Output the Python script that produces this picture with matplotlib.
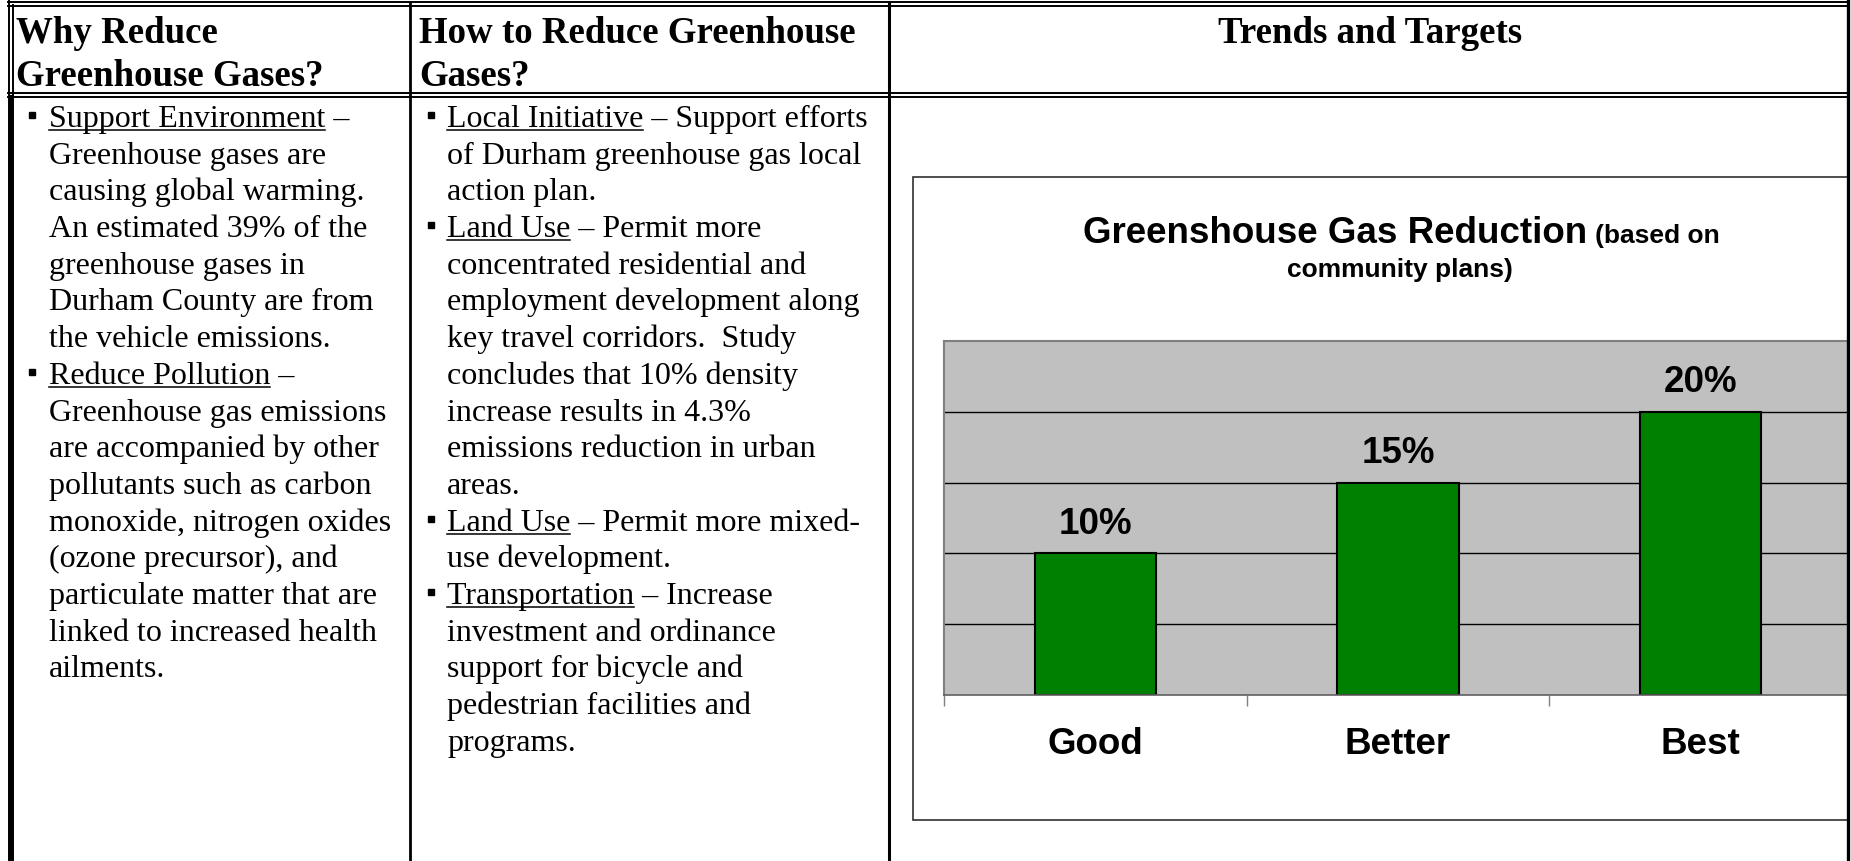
import matplotlib
matplotlib.use("Agg")
import matplotlib.pyplot as plt
from matplotlib.patches import Rectangle

W, H = 1851, 862

# chart values
categories = ['Good', 'Better', 'Best']
reduction = [10, 15, 20]
grid_levels = [5, 10, 15, 20]
y_max = 25

# table text: (bullet, underlined words, rest of line)
headers = [
    (16, ['Why Reduce', 'Greenhouse Gases?']),
    (419, ['How to Reduce Greenhouse', 'Gases?']),
]
col1_lines = [
    (True, 'Support Environment', ' \u2013'),
    (False, '', 'Greenhouse gases are'),
    (False, '', 'causing global warming.'),
    (False, '', 'An estimated 39% of the'),
    (False, '', 'greenhouse gases in'),
    (False, '', 'Durham County are from'),
    (False, '', 'the vehicle emissions.'),
    (True, 'Reduce Pollution', ' \u2013'),
    (False, '', 'Greenhouse gas emissions'),
    (False, '', 'are accompanied by other'),
    (False, '', 'pollutants such as carbon'),
    (False, '', 'monoxide, nitrogen oxides'),
    (False, '', '(ozone precursor), and'),
    (False, '', 'particulate matter that are'),
    (False, '', 'linked to increased health'),
    (False, '', 'ailments.'),
]
col2_lines = [
    (True, 'Local Initiative', ' \u2013 Support efforts'),
    (False, '', 'of Durham greenhouse gas local'),
    (False, '', 'action plan.'),
    (True, 'Land Use', ' \u2013 Permit more'),
    (False, '', 'concentrated residential and'),
    (False, '', 'employment development along'),
    (False, '', 'key travel corridors.  Study'),
    (False, '', 'concludes that 10% density'),
    (False, '', 'increase results in 4.3%'),
    (False, '', 'emissions reduction in urban'),
    (False, '', 'areas.'),
    (True, 'Land Use', ' \u2013 Permit more mixed-'),
    (False, '', 'use development.'),
    (True, 'Transportation', ' \u2013 Increase'),
    (False, '', 'investment and ordinance'),
    (False, '', 'support for bicycle and'),
    (False, '', 'pedestrian facilities and'),
    (False, '', 'programs.'),
]

serif = 'Liberation Serif'
sans = 'Liberation Sans'

fig = plt.figure(figsize=(W / 100, H / 100), dpi=100)
renderer = fig.canvas.get_renderer()

# background layer in pixel coordinates
bg = fig.add_axes([0, 0, 1, 1], zorder=0)
bg.set_xlim(0, W)
bg.set_ylim(H, 0)
bg.axis('off')

for x, lines in headers:
    for i, s in enumerate(lines):
        bg.text(x, 43 + i * 43, s, family=serif, weight='bold', fontsize=26.6,
                va='baseline', ha='left')
bg.text(1370, 43, 'Trends and Targets', family=serif, weight='bold',
        fontsize=26.6, va='baseline', ha='center')


def body(lines, x_bullet, x_text):
    for i, (bullet, under, rest) in enumerate(lines):
        y = 127 + i * 36.7
        if bullet:
            bg.add_patch(Rectangle((x_bullet, y - 14), 6, 6, color='black'))
        bg.text(x_text, y, under + rest, family=serif, fontsize=23,
                va='baseline', ha='left')
        if under:
            t = bg.text(x_text, y, under, family=serif, fontsize=23,
                        va='baseline', ha='left')
            w = t.get_window_extent(renderer).width
            t.remove()
            bg.plot([x_text, x_text + w], [y + 4, y + 4], color='black', lw=1.1)


body(col1_lines, 29, 49)
body(col2_lines, 428, 447)

# chart frame and title
bg.add_patch(Rectangle((913, 178), 1000, 643, facecolor='white',
                       edgecolor='#303030', lw=1.2))
t1 = bg.text(1083, 243, 'Greenshouse Gas Reduction', family=sans, weight='bold',
             fontsize=26.5, va='baseline', ha='left')
w1 = t1.get_window_extent(renderer).width
bg.text(1083 + w1 + 8, 243, '(based on', family=sans, weight='bold',
        fontsize=19, va='baseline', ha='left')
bg.text(1400, 277, 'community plans)', family=sans, weight='bold',
        fontsize=19, va='baseline', ha='center')

# bar chart
ax = fig.add_axes([944 / W, (H - 696) / H, (1852 - 944) / W, (696 - 342) / H],
                  zorder=1)
ax.set_facecolor('#c0c0c0')
ax.set_axisbelow(True)
x = range(len(categories))
bars = ax.bar(x, reduction, width=0.4, color='#008000', edgecolor='black',
              linewidth=1.5)
for b, v in zip(bars, reduction):
    ax.annotate(f'{v}%', (b.get_x() + b.get_width() / 2, v),
                xytext=(0, 15), textcoords='offset points', ha='center',
                va='baseline', family=sans, weight='bold', fontsize=26.5)
ax.set_xlim(-0.5, 2.5)
ax.set_ylim(0, y_max)
ax.set_yticks(grid_levels)
ax.yaxis.grid(True, color='black', lw=1.0)
ax.tick_params(axis='y', length=0, labelleft=False)
ax.set_xticks(list(x))
ax.set_xticklabels(categories, family=sans, weight='bold', fontsize=26.5)
ax.tick_params(axis='x', which='major', length=0, pad=22)
ax.set_xticks([-0.5, 0.5, 1.5], minor=True)
ax.tick_params(axis='x', which='minor', length=8, color='#808080', width=1)
for side in ['left', 'top']:
    ax.spines[side].set_color('#808080')
    ax.spines[side].set_linewidth(1.5)
ax.spines['bottom'].set_color('#606060')
ax.spines['bottom'].set_linewidth(1.2)
ax.spines['right'].set_visible(False)

# table borders on top
top = fig.add_axes([0, 0, 1, 1], zorder=2)
top.set_xlim(0, W)
top.set_ylim(H, 0)
top.axis('off')
top.patch.set_visible(False)
for yy in [3, 7, 94, 98]:
    top.plot([8, 1849], [yy, yy], color='black', lw=1.4)
top.plot([9, 9], [2, H], color='black', lw=1.4)
top.plot([13, 13], [6, H], color='black', lw=1.4)
top.plot([11, 11], [98, H], color='black', lw=3)
top.plot([409.5, 409.5], [3, H], color='black', lw=2)
top.plot([889, 889], [3, H], color='black', lw=2.2)
top.plot([1847.5, 1847.5], [2, H], color='black', lw=2.4)
top.add_patch(Rectangle((1849.5, 0), 5, H, color='white'))

fig.savefig('out.png', dpi=100)
